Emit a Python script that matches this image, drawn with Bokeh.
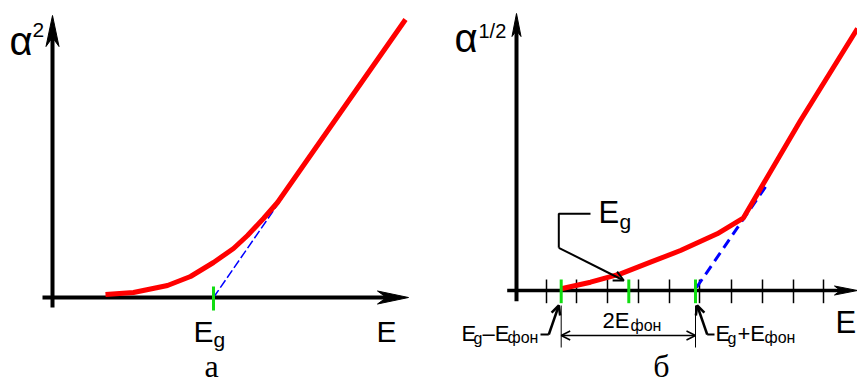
from bokeh.plotting import figure
from bokeh.models import Range1d, Label, Arrow, OpenHead
from bokeh.layouts import row
from bokeh.embed import file_html
from bokeh.resources import INLINE

# ---------------- data (E, alpha units) ----------------
# panel a : alpha^2 vs E
E_a = [0.53, 0.81, 1.15, 1.38, 1.61, 1.81, 1.95, 2.11, 2.25, 3.53]
alpha2 = [0.03, 0.05, 0.12, 0.21, 0.35, 0.49, 0.62, 0.79, 0.95, 2.78]
Eg_a = 1.61
tangent_a_E = [1.61, 2.30]
tangent_a_y = [0.0, 1.00]

# panel b : alpha^(1/2) vs E
E_b = [0.447, 0.74, 1.04, 1.34, 1.64, 2.007, 2.267, 2.84, 3.41]
alpha_half = [0.017, 0.083, 0.167, 0.283, 0.40, 0.567, 0.723, 1.70, 2.62]
ticks_b = [0.30, 0.60, 0.91, 1.22, 1.53, 1.83, 2.15, 2.46, 2.77, 3.07]
Eg_minus, Eg_b, Eg_plus = 0.447, 1.123, 1.79
tangent_b_E = [1.80, 2.52]
tangent_b_y = [0.03, 1.08]

K = 100.0  # screen pixels per data unit
RED = "#ff0000"
BLUE = "#0000ff"
GREEN = "#11dd11"
SANS = "Liberation Sans"
SERIF = "Liberation Serif"


def make_fig(w, h, xr, yr):
    p = figure(width=w, height=h, x_range=Range1d(*xr), y_range=Range1d(*yr),
               x_axis_type=None, y_axis_type=None, toolbar_location=None,
               output_backend="svg", min_border=0, outline_line_color=None,
               background_fill_color="white", border_fill_color="white")
    return p


def head(p, tx, ty, direction, L, W, N):
    L, W, N = L / K, W / K, N / K
    if direction == "up":
        xs = [tx, tx + W, tx, tx - W]
        ys = [ty, ty - L, ty - L + N, ty - L]
    else:
        xs = [tx, tx - L, tx - L + N, tx - L]
        ys = [ty, ty + W, ty, ty - W]
    p.patch(xs, ys, fill_color="black", line_color="black", line_width=1)


def label(p, x, y, text, size, font=SANS, align="left"):
    # y is the wanted baseline; compensate the renderer's baseline offset
    p.add_layout(Label(x=x, y=y + 0.357 * size / K, text=text, text_font=font,
                       text_font_size=f"{size}px", text_color="black",
                       text_baseline="alphabetic", text_align=align))


# ---------------- panel a ----------------
pa = make_fig(430, 385, (-0.52, 3.78), (-0.88, 2.97))
pa.line([-0.10, 3.40], [0, 0], line_color="black", line_width=4)
pa.line([0, 0], [-0.10, 2.65], line_color="black", line_width=4)
head(pa, 3.56, 0, "right", 31, 6.5, 9)
head(pa, 0, 2.82, "up", 31, 6.5, 9)
pa.line(tangent_a_E, tangent_a_y, line_color=BLUE, line_width=1.5, line_dash="9 3")
pa.line(E_a, alpha2, line_color=RED, line_width=5, line_join="round")
pa.line([Eg_a, Eg_a], [0.11, -0.13], line_color=GREEN, line_width=3)

label(pa, -0.43, 2.42, "α", 40)
label(pa, -0.20, 2.60, "2", 21)
label(pa, 1.41, -0.45, "E", 30)
label(pa, 1.61, -0.49, "g", 21)
label(pa, 3.24, -0.45, "E", 30)
label(pa, 1.59, -0.80, "а", 32, SERIF, "center")

# ---------------- panel b ----------------
pb = make_fig(427, 385, (-0.86, 3.41), (-0.95, 2.90))
pb.line([-0.093, 3.30], [0, 0], line_color="black", line_width=3.5)
pb.line([0, 0], [-0.107, 2.62], line_color="black", line_width=4)
head(pb, 3.41, 0, "right", 23, 4.5, 6)
head(pb, 0, 2.77, "up", 23, 4.5, 6)
for t in ticks_b:
    pb.line([t, t], [0.11, -0.127], line_color="black", line_width=1.5)
pb.line(tangent_b_E, tangent_b_y, line_color=BLUE, line_width=3, line_dash="10 6")
pb.line(E_b, alpha_half, line_color=RED, line_width=5, line_join="round")
for g in (Eg_minus, Eg_b, Eg_plus):
    pb.line([g, g], [0.11, -0.127], line_color=GREEN, line_width=3)

# E_g leader
pb.line([0.74, 0.423, 0.423], [0.767, 0.767, 0.427], line_color="black", line_width=2)
pb.add_layout(Arrow(end=OpenHead(size=10, line_width=2), x_start=0.423, y_start=0.427,
                    x_end=1.073, y_end=0.10, line_width=2))
# dimension lines
for g in (Eg_minus, Eg_plus):
    pb.line([g, g], [-0.15, -0.57], line_color="black", line_width=1)
pb.add_layout(Arrow(start=OpenHead(size=9, line_width=1.5), end=OpenHead(size=9, line_width=1.5),
                    x_start=Eg_minus, y_start=-0.45, x_end=Eg_plus, y_end=-0.45, line_width=1.5))
# lower leaders
pb.line([0.24, 0.323], [-0.44, -0.44], line_color="black", line_width=2)
pb.add_layout(Arrow(end=OpenHead(size=9, line_width=2.5), x_start=0.323, y_start=-0.44,
                    x_end=0.423, y_end=-0.15, line_width=2.5))
pb.line([1.98, 1.907], [-0.44, -0.44], line_color="black", line_width=2)
pb.add_layout(Arrow(end=OpenHead(size=9, line_width=2.5), x_start=1.907, y_start=-0.44,
                    x_end=1.807, y_end=-0.15, line_width=2.5))

label(pb, -0.62, 2.38, "α", 40)
label(pb, -0.38, 2.52, "1/2", 20)
label(pb, 3.19, -0.43, "E", 31)
label(pb, 0.82, 0.67, "E", 31)
label(pb, 1.03, 0.62, "g", 21)
# E_g - E_фон
label(pb, -0.55, -0.51, "E", 22)
label(pb, -0.43, -0.54, "g", 16)
label(pb, -0.34, -0.51, "–E", 22)
label(pb, -0.09, -0.53, "фон", 16)
# 2E_фон
label(pb, 0.86, -0.38, "2E", 22)
label(pb, 1.14, -0.41, "фон", 16)
# E_g + E_фон
label(pb, 1.99, -0.51, "E", 22)
label(pb, 2.11, -0.54, "g", 16)
label(pb, 2.21, -0.51, "+E", 22)
label(pb, 2.48, -0.53, "фон", 16)
label(pb, 1.45, -0.87, "б", 32, SERIF, "center")

layout = row(pa, pb)
open("out.html", "w").write(file_html(layout, INLINE))
